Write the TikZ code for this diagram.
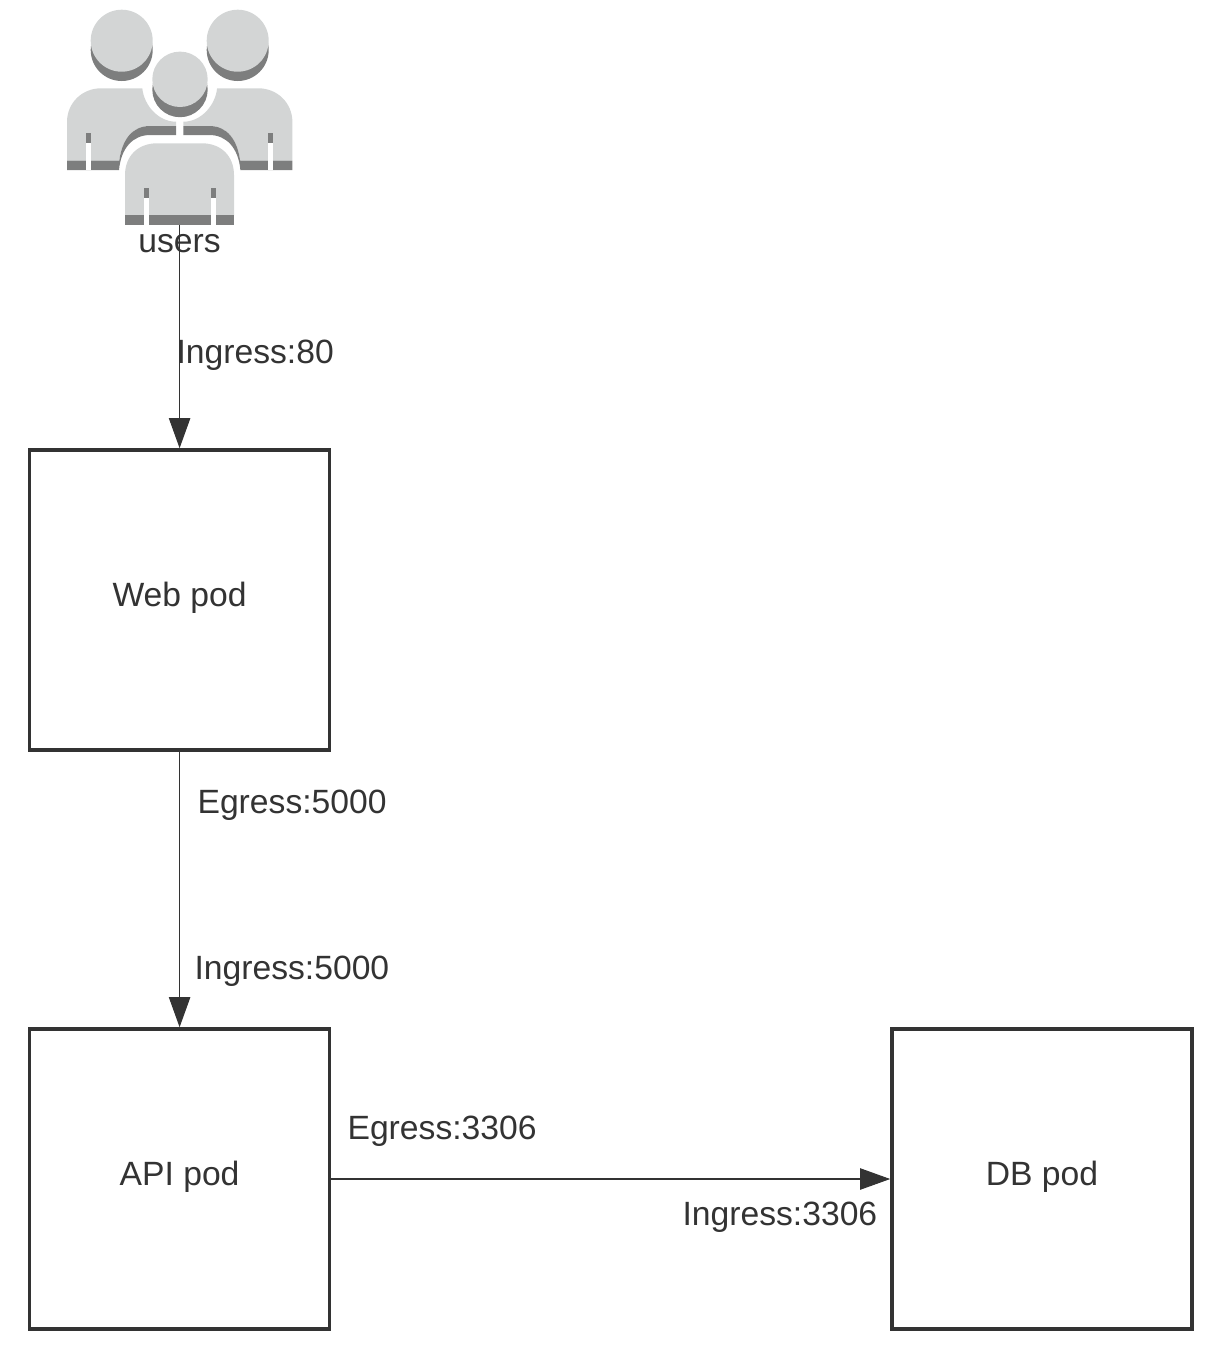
\documentclass[tikz,border=0pt]{standalone}
\usepackage{fontspec}
\setmainfont{Liberation Sans}
\usetikzlibrary{arrows.meta}
\definecolor{ink}{HTML}{333333}
\definecolor{iconlight}{HTML}{D3D5D5}
\definecolor{icondark}{HTML}{7D7E7E}
\tikzset{
  podbox/.style={draw=ink,line width=2.7pt,fill=white,minimum width=225pt,minimum height=225pt,inner sep=0pt,text=ink,font=\fontsize{25.25}{30}\selectfont},
  lbl/.style={inner sep=0pt,text=ink,font=\fontsize{25.25}{30}\selectfont,anchor=base west},
  conn/.style={draw=ink,line width=0.8pt,-{Triangle[length=22.5pt,width=16pt,fill=ink]}},
}
\newcommand{\sidebody}{%
  \fill[iconlight] (67,160.7) -- (67,122) .. controls (67,103) and (82,88.3) .. (101,88.3) -- (142.3,88.3)
    .. controls (144,105) and (158,121.7) .. (176,121.7) -- (176,126) -- (150,126)
    .. controls (132,126) and (122,140) .. (119.3,160.7) -- cycle;
  \fill[icondark] (67,160.7) -- (119.3,160.7) .. controls (122,140) and (132,126) .. (150,126) -- (176,126)
    -- (176,135) -- (150,135) .. controls (133,135) and (121,148) .. (119,170) -- (67,170) -- cycle;
  \fill[icondark] (86,132.7) rectangle (91,142.7);
  \fill[white] (86,142.7) rectangle (91,170);
}
\begin{document}
\begin{tikzpicture}[x=0.75pt,y=-0.75pt]
\useasboundingbox (0,0) rectangle (1224,1361);
% icon
\fill[icondark] (121.7,50) circle[radius=31];
\fill[iconlight] (121.7,40.7) circle[radius=31];
\fill[icondark] (237.7,50) circle[radius=31];
\fill[iconlight] (237.7,40.7) circle[radius=31];
\fill[icondark] (180,89.5) circle[radius=27.7];
\fill[iconlight] (180,79.3) circle[radius=27.7];
\sidebody
\begin{scope}[shift={(359.4,0)},xscale=-1]
\sidebody
\end{scope}
\fill[iconlight] (125,215.3) -- (125,175) .. controls (125,156) and (138,143.3) .. (157,143.3) -- (202,143.3)
  .. controls (221,143.3) and (234,156) .. (234,175) -- (234,215.3) -- cycle;
\fill[icondark] (125,215.3) rectangle (234,225.3);
\fill[icondark] (144,188.3) rectangle (149,197.7);
\fill[icondark] (211,188.3) rectangle (215.7,197.7);
\fill[white] (144,197.7) rectangle (149,225.3);
\fill[white] (211,197.7) rectangle (215.7,225.3);
\coordinate (usersicon) at (179.6,225);
% boxes
\node[podbox] (web) at (179.6,600) {\raisebox{8pt}{Web pod}};
\node[podbox] (api) at (179.6,1179) {\raisebox{8pt}{API pod}};
\node[podbox] (db) at (1042,1179) {\raisebox{8pt}{DB pod}};
% labels
\node[lbl,anchor=base] (users) at (179.5,252) {users};
\node[lbl] (l1) at (176.3,363) {Ingress:80};
\node[lbl] (l2) at (197.3,813) {Egress:5000};
\node[lbl] (l3) at (194.3,979) {Ingress:5000};
\node[lbl] (l4) at (347.3,1139) {Egress:3306};
\node[lbl] (l5) at (682.3,1225) {Ingress:3306};
% connectors
\draw[conn] (usersicon) -- (web.north);
\draw[conn] (web.south) -- (api.north);
\draw[conn] (api.east) -- (db.west);
\end{tikzpicture}
\end{document}
